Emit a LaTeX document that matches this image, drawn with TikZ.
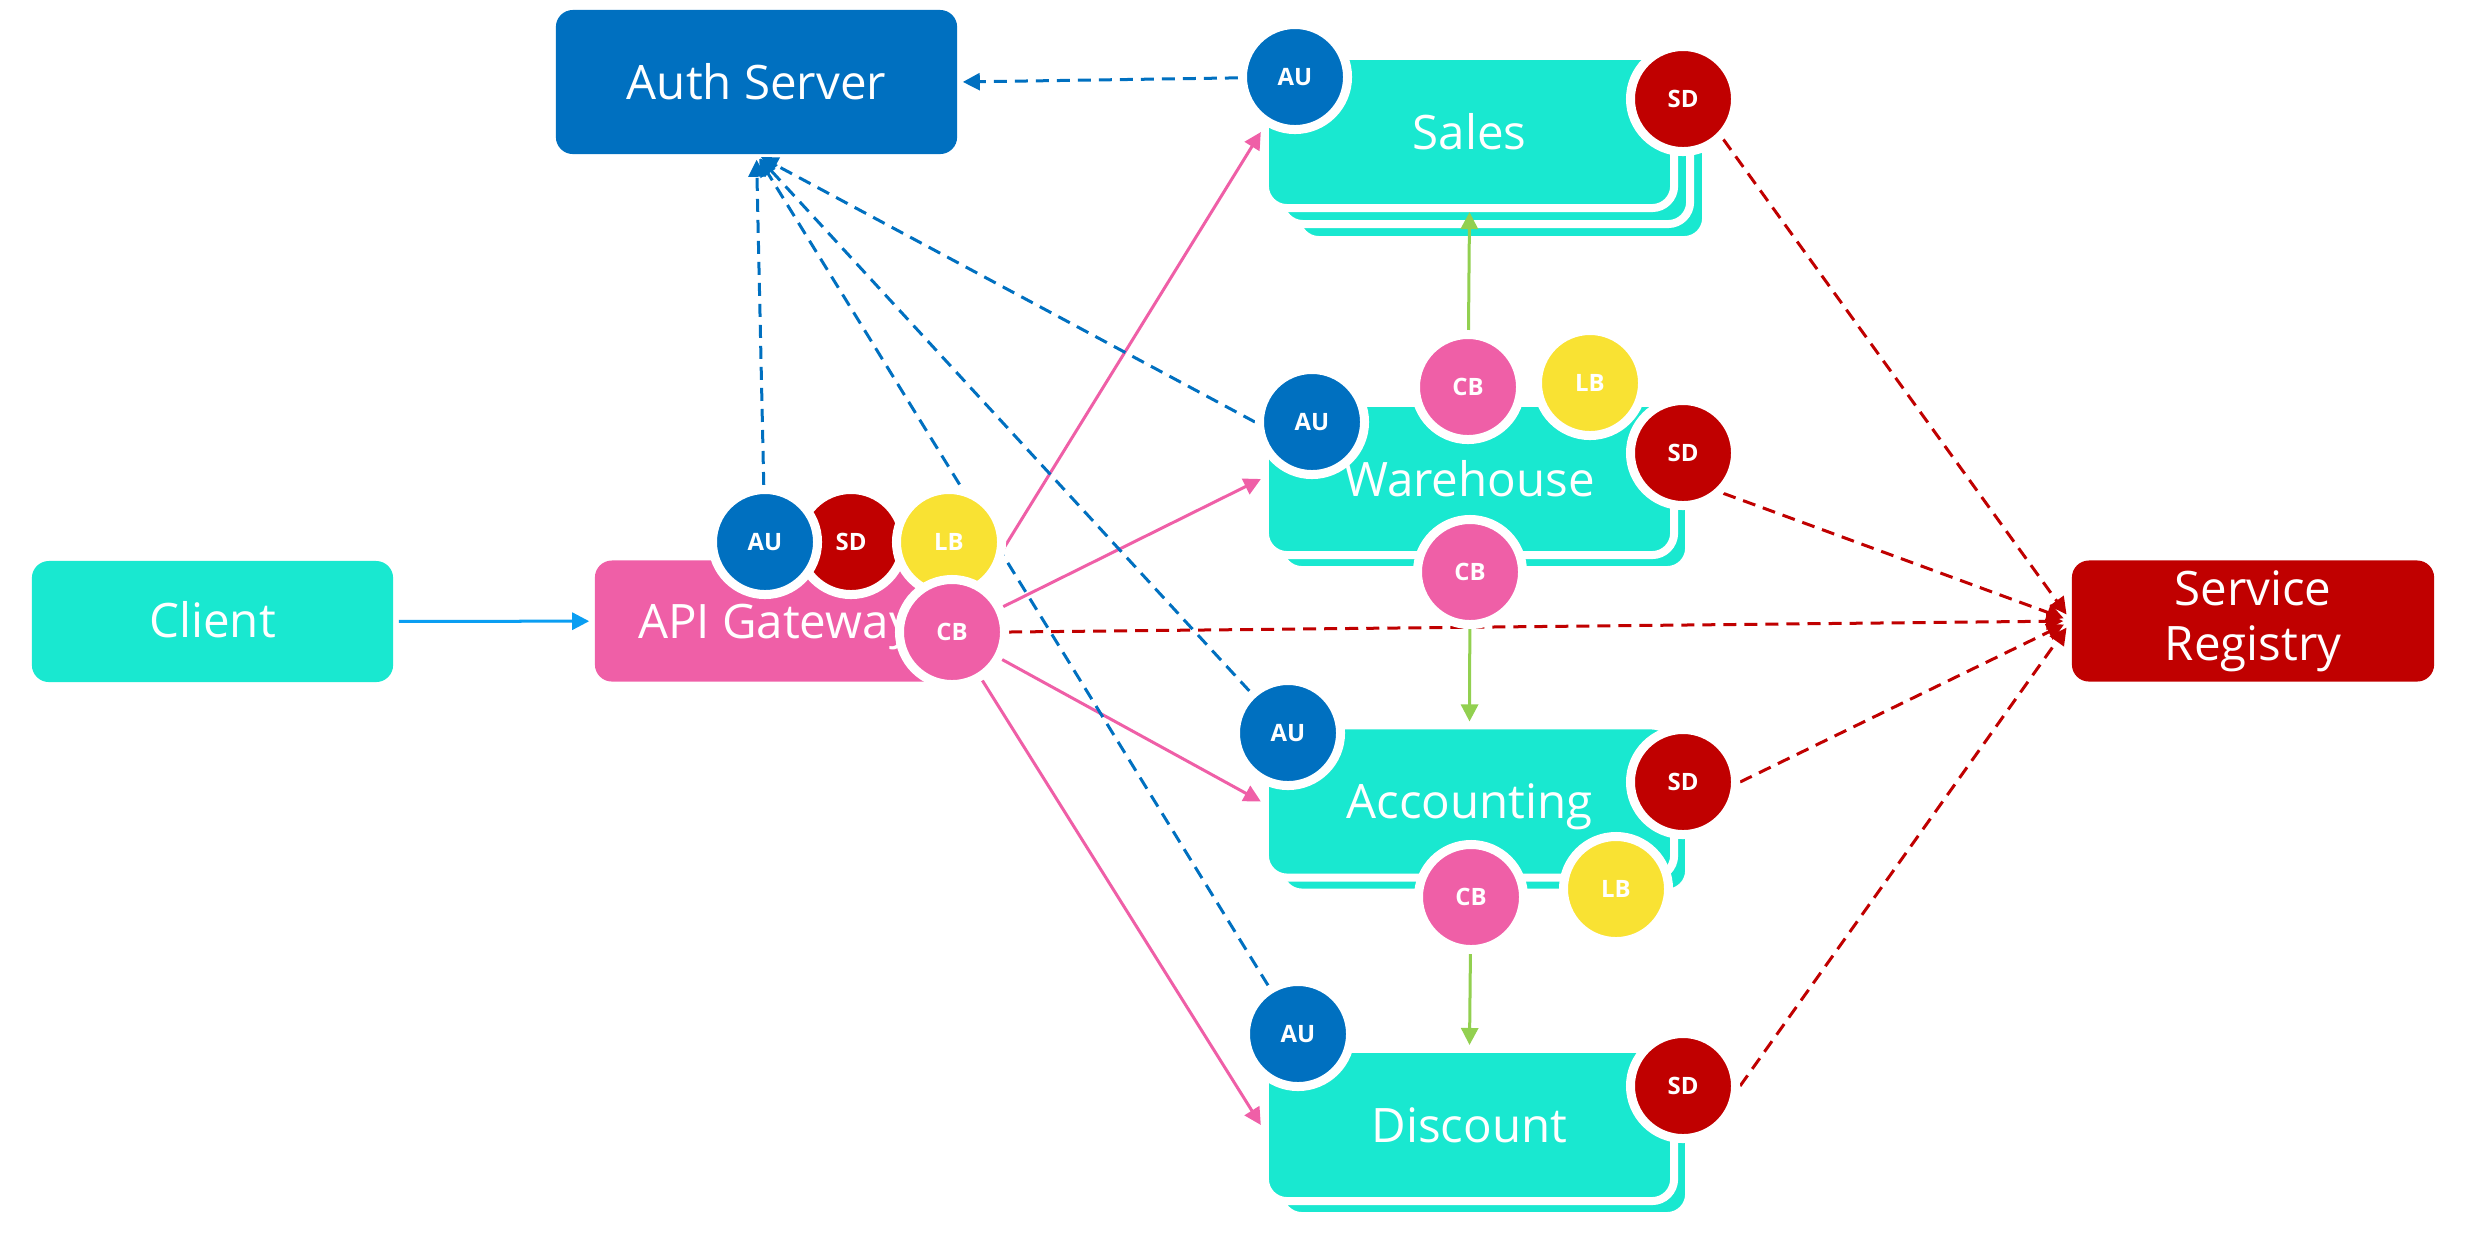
\documentclass[tikz,border=0pt]{standalone}
\usepackage{fontspec}
\setmainfont{Open Sans}
\usetikzlibrary{arrows.meta}

\pgfdeclarelayer{background}
\pgfsetlayers{background,main}

\definecolor{svccyan}{HTML}{19E8D0}
\definecolor{gwpink}{HTML}{EF5FA7}
\definecolor{authblue}{HTML}{0070C0}
\definecolor{regred}{HTML}{C00000}
\definecolor{lbyellow}{HTML}{F9E233}
\definecolor{cbgreen}{HTML}{92D050}
\definecolor{reqblue}{HTML}{0A9EF2}

\tikzset{
    box/.style={rounded corners=0.17cm, minimum width=3.61cm, minimum height=1.21cm,
        inner sep=0pt, text=white, font=\fontsize{13.5}{15.6}\selectfont},
    svcbox/.style={fill=svccyan, draw=white, line width=0.08cm, rounded corners=0.22cm,
        minimum width=4.09cm, minimum height=1.52cm, inner sep=0pt, text=white,
        text height=0.34cm, text depth=0pt, font=\fontsize{13.5}{15.6}\selectfont},
    badge/.style={circle, draw=white, line width=0.09cm, minimum size=1.05cm, inner sep=0pt,
        text=white, text height=0.17cm, text depth=0pt, font=\fontsize{6.8}{8}\selectfont\bfseries},
    aubadge/.style={badge, fill=authblue},
    sdbadge/.style={badge, fill=regred},
    lbbadge/.style={badge, fill=lbyellow},
    cbbadge/.style={badge, fill=gwpink},
    tip/.style={-{Triangle[length=0.17cm, width=0.17cm]}},
    reqarrow/.style={tip, reqblue, line width=0.03cm, shorten <=0.05cm, shorten >=0.05cm},
    gwarrow/.style={tip, gwpink, line width=0.03cm},
    cbarrow/.style={tip, cbgreen, line width=0.03cm},
    authlink/.style={tip, authblue, line width=0.03cm, dash pattern=on 0.13cm off 0.08cm, shorten >=0.05cm},
    reglink/.style={tip, regred, line width=0.03cm, dash pattern=on 0.13cm off 0.08cm, shorten >=0.08cm}
}

\begin{document}
\begin{tikzpicture}[x=0.01cm, y=-0.01cm]
    \useasboundingbox (0,0) rectangle (2476,1238);

    % Client, gateway, auth and registry
    \node[box, fill=svccyan, text height=0.32cm, text depth=0pt] (client) at (212.5,621.5) {Client};
    \node[box, fill=authblue, minimum width=4.01cm, minimum height=1.44cm,
        text height=0.34cm, text depth=0pt] (auth) at (756.5,82) {Auth Server};
    \node[box, fill=regred, minimum width=3.62cm, align=center] (registry) at (2253,621) {Service\\Registry};
    \node[box, fill=gwpink, text height=0.34cm, text depth=0pt] (gateway) at (775.5,621) {API Gateway};
    \node[sdbadge] (gwsd) at (851,542) {SD};
    \node[aubadge] (gwau) at (765,542) {AU};
    \node[lbbadge] (gwlb) at (949,542) {LB};
    \node[cbbadge] (gwcb) at (952,632) {CB};

    % Sales (three instances)
    \node[svcbox] (salesback2) at (1501.5,164) {};
    \node[svcbox] (salesback1) at (1485.5,148) {};
    \node[svcbox] (sales) at (1469.5,132) {Sales};
    \node[aubadge] (salesau) at (1295,77) {AU};
    \node[sdbadge] (salessd) at (1683,99) {SD};

    % Warehouse
    \node[svcbox] (warehouseback) at (1484.5,494) {};
    \node[svcbox] (warehouse) at (1469.5,479) {Warehouse};
    \node[aubadge] (whau) at (1312,422) {AU};
    \node[cbbadge] (whcbup) at (1468,387) {CB};
    \node[lbbadge] (whlb) at (1590,383) {LB};
    \node[sdbadge] (whsd) at (1683,453) {SD};
    \node[cbbadge] (whcbdown) at (1470,572) {CB};

    % Accounting
    \node[svcbox] (accountingback) at (1484.5,816.5) {};
    \node[svcbox] (accounting) at (1469.5,801.5) {Accounting};
    \node[aubadge] (acau) at (1288,733) {AU};
    \node[sdbadge] (acsd) at (1683,782) {SD};
    \node[cbbadge] (accb) at (1471,897) {CB};
    \node[lbbadge] (aclb) at (1616,889) {LB};

    % Discount
    \node[svcbox] (discountback) at (1484.5,1140) {};
    \node[svcbox] (discount) at (1469.5,1125) {Discount};
    \node[aubadge] (discau) at (1298,1034) {AU};
    \node[sdbadge] (discsd) at (1683,1086) {SD};

    \begin{pgfonlayer}{background}
        % Requests
        \draw[reqarrow] (client) -- (gateway);
        \foreach \svc in {sales,warehouse,accounting,discount}
            \draw[gwarrow] (gwcb) -- (\svc.west);
        % Auth checks
        \draw[authlink] (salesau) -- (auth.east);
        \draw[authlink] (gwau) -- (auth.south);
        \draw[authlink] (whau.west) -- (auth.south);
        \draw[authlink] (acau) -- (auth.south);
        \draw[authlink] (discau) -- (auth.south);
        % Discovery
        \draw[reglink] (salessd.south east) -- (registry.west);
        \draw[reglink] (whsd.south east) -- (registry.west);
        \draw[reglink] (gwcb.east) -- (registry.west);
        \draw[reglink] (acsd.east) -- (registry.west);
        \draw[reglink] (discsd.east) -- (registry.west);
    \end{pgfonlayer}

    % Circuit breakers
    \draw[cbarrow] (whcbup) -- (sales.south);
    \draw[cbarrow] (whcbdown) -- (accounting.north);
    \draw[cbarrow] (accb) -- (discount.north);
\end{tikzpicture}
\end{document}
